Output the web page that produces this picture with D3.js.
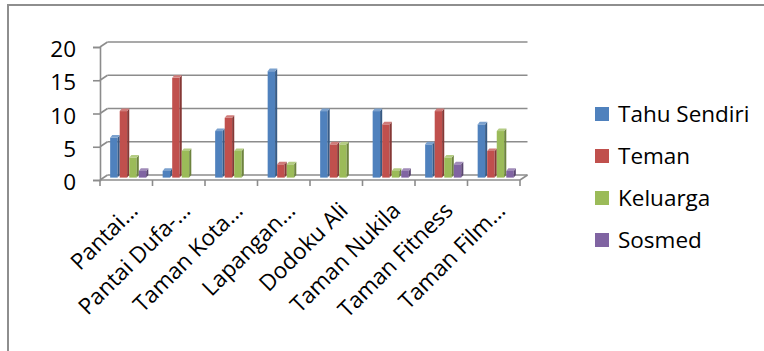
<!DOCTYPE html>
<html>
<head>
<meta charset="utf-8">
<script src="https://cdn.jsdelivr.net/npm/d3@7"></script>
<style>
  html, body { margin: 0; padding: 0; background: #fff; }
  svg { display: block; }
  text { font-family: "Open Sans", Lato, sans-serif; fill: #000; }
</style>
</head>
<body>
<svg id="chart" width="764" height="351"></svg>
<script>
// Places and how visitors heard about them
const categories = ["Pantai...", "Pantai Dufa-...", "Taman Kota...", "Lapangan...",
                    "Dodoku Ali", "Taman Nukila", "Taman Fitness", "Taman Film..."];
const seriesNames = ["Tahu Sendiri", "Teman", "Keluarga", "Sosmed"];
const tahuSendiri = [6, 1, 7, 16, 10, 10, 5, 8];
const teman       = [10, 15, 9, 2, 5, 8, 10, 4];
const keluarga    = [3, 4, 4, 2, 5, 1, 3, 7];
const sosmed      = [1, 0, 0, 0, 0, 1, 2, 1];
const yTicks = [0, 5, 10, 15, 20];

const seriesValues = [tahuSendiri, teman, keluarga, sosmed];
const colors = ["#4F81BD", "#C0504D", "#9BBB59", "#8064A2"];
const fontSize = 22.5;

const svg = d3.select("#chart");

// outer chart border
svg.append("rect")
  .attr("x", 8).attr("y", 5).attr("width", 900).attr("height", 400)
  .attr("fill", "none").attr("stroke", "#8e8e8e").attr("stroke-width", 2);

// plot geometry: front edge of the floor and the depth offset of the back wall
const x0 = 100, x1 = 520;
const depthX = 7.5, depthY = -5;

const x = d3.scaleBand().domain(categories).range([x0, x1]).paddingInner(0).paddingOuter(0);
const yFront = d3.scaleLinear().domain([0, 20]).range([180, 47]);
const yBack = v => yFront(v) + depthY;
// bars stand in the middle of the floor depth
const yBar = d3.scaleLinear().domain([0, 20]).range([177.6, 44.6]);

const grid = svg.append("g").attr("stroke", "#8c8c8c").attr("stroke-width", 1.6).attr("fill", "none");

// back wall gridlines and their link to the side wall
yTicks.forEach(t => {
  grid.append("line")
    .attr("x1", x0 + depthX).attr("x2", x1 + depthX)
    .attr("y1", yBack(t)).attr("y2", yBack(t));
  grid.append("line")
    .attr("x1", x0).attr("y1", yFront(t))
    .attr("x2", x0 + depthX).attr("y2", yBack(t));
});
// floor front edge and right edge
grid.append("line").attr("x1", x0).attr("x2", x1).attr("y1", yFront(0)).attr("y2", yFront(0));
grid.append("line").attr("x1", x1).attr("y1", yFront(0)).attr("x2", x1 + depthX).attr("y2", yBack(0));

// value axis
const yAxis = svg.append("g")
  .attr("transform", `translate(${x0},0)`)
  .call(d3.axisLeft(yFront).tickValues(yTicks).tickSize(7).tickPadding(17).tickFormat(d3.format("d")));
yAxis.select(".domain").attr("stroke", "#8c8c8c").attr("stroke-width", 1.6);
yAxis.selectAll(".tick line").attr("stroke", "#8c8c8c").attr("stroke-width", 1.6);
yAxis.selectAll(".tick text").attr("font-size", fontSize).attr("dy", "0.43em")
  .style("font-family", "'Open Sans', Lato, sans-serif");

// category axis
const xAxis = svg.append("g")
  .attr("transform", `translate(0,${yFront(0)})`)
  .call(d3.axisBottom(x).tickSize(0).tickFormat(""));
xAxis.select(".domain").remove();
const boundaries = d3.range(categories.length + 1).map(i => x0 + i * x.bandwidth());
xAxis.selectAll(".bnd").data(boundaries).enter().append("line")
  .attr("x1", d => d).attr("x2", d => d).attr("y1", 0).attr("y2", 6)
  .attr("stroke", "#8c8c8c").attr("stroke-width", 1.6);
xAxis.selectAll(".tick").each(function(d) {
  d3.select(this).append("text")
    .attr("font-size", fontSize)
    .attr("text-anchor", "end")
    .attr("transform", "translate(13,32) rotate(-45)")
    .text(d);
});

// 3D columns
const slot = x.bandwidth() / 5.5;
const faceW = slot * 0.78, dX = slot - faceW, dY = -2.6;
const shade = (c, k) => d3.interpolateRgb(c, k > 0 ? "#fff" : "#000")(Math.abs(k));

const bars = svg.append("g");
seriesValues.forEach((vals, s) => {
  const g = bars.append("g");
  const rows = categories.map((c, i) => ({ c, v: vals[i] })).filter(d => d.v > 0);
  const left = d => x(d.c) + 0.75 * slot + 3 + s * slot;
  const base = yBar(0);
  // front face
  g.selectAll(".front").data(rows).enter().append("rect")
    .attr("x", d => left(d)).attr("y", d => yBar(d.v))
    .attr("width", faceW).attr("height", d => base - yBar(d.v))
    .attr("fill", colors[s]);
  // right side face
  g.selectAll(".side").data(rows).enter().append("path")
    .attr("d", d => {
      const xr = left(d) + faceW, yt = yBar(d.v);
      return `M${xr},${yt}L${xr + dX},${yt + dY}L${xr + dX},${base + dY}L${xr},${base}Z`;
    })
    .attr("fill", shade(colors[s], -0.3));
  // top face
  g.selectAll(".top").data(rows).enter().append("path")
    .attr("d", d => {
      const xl = left(d), yt = yBar(d.v);
      return `M${xl},${yt}L${xl + dX},${yt + dY}L${xl + faceW + dX},${yt + dY}L${xl + faceW},${yt}Z`;
    })
    .attr("fill", shade(colors[s], 0.25));
});

// legend
const legend = svg.append("g").attr("transform", "translate(595,107)");
seriesNames.forEach((name, i) => {
  const row = legend.append("g").attr("transform", `translate(0,${i * 42})`);
  row.append("rect").attr("width", 14).attr("height", 14).attr("fill", colors[i]);
  row.append("text").attr("x", 23).attr("y", 14.5).attr("font-size", fontSize).text(name);
});
</script>
</body>
</html>
